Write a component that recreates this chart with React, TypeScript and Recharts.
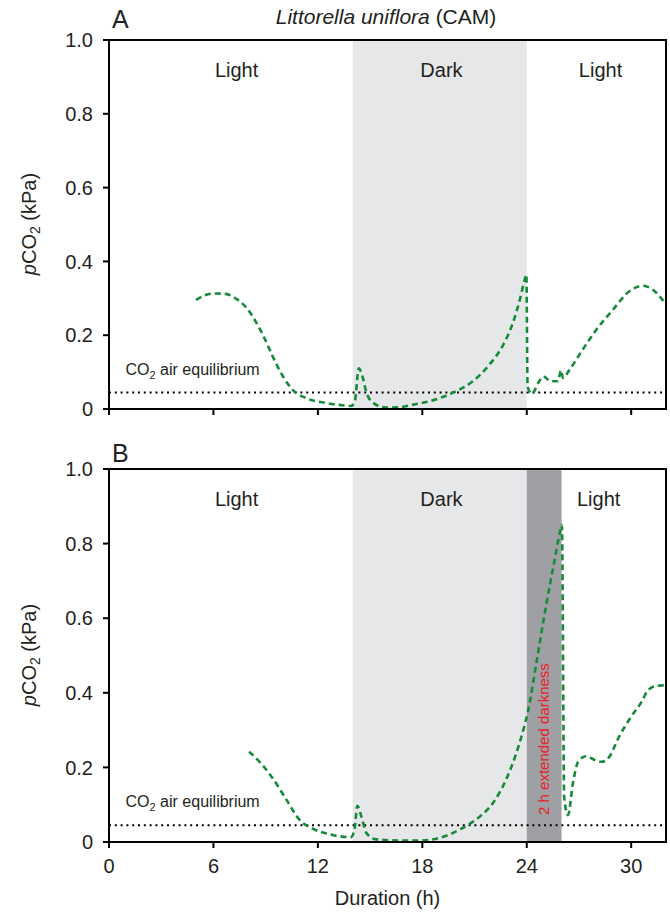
import React from "react";
import {
  LineChart,
  Line,
  XAxis,
  YAxis,
  ReferenceArea,
  ReferenceLine,
  ReferenceDot,
} from "recharts";

// Panel A: Littorella uniflora, normal light/dark cycle
const aHours = [
  5.0, 5.5, 6.05, 6.7, 7.2, 7.9, 8.45, 8.95, 9.4, 10.0, 10.55, 11.3, 12.5, 13.4, 13.9,
  14.12, 14.35, 14.55, 14.8, 15.2, 15.9, 16.7, 17.6, 18.4, 19.2, 19.8, 20.9, 21.85, 22.6,
  23.2, 23.6, 23.88, 23.98, 24.05, 24.3, 24.65, 24.95, 25.4, 25.8, 25.97, 26.08, 26.45,
  27.2, 28.0, 28.95, 29.9, 30.65, 31.25, 31.8, 32.0,
];
const aValues = [
  0.296, 0.308, 0.313, 0.312, 0.302, 0.274, 0.235, 0.19, 0.143, 0.088, 0.052, 0.03, 0.016,
  0.01, 0.008, 0.02, 0.11, 0.09, 0.043, 0.016, 0.004, 0.005, 0.013, 0.021, 0.033, 0.045,
  0.075, 0.12, 0.17, 0.233, 0.296, 0.35, 0.364, 0.06, 0.041, 0.07, 0.088, 0.075, 0.076,
  0.105, 0.084, 0.106, 0.16, 0.215, 0.269, 0.319, 0.334, 0.323, 0.296, 0.285,
];

// Panel B: same, with 2 h extended darkness
const bHours = [
  8.05, 8.65, 9.4, 10.2, 10.95, 11.7, 12.85, 13.9, 14.1, 14.27, 14.5, 14.8, 15.35, 16.7,
  17.85, 19.2, 20.3, 21.3, 22.05, 22.8, 23.4, 23.8, 24.07, 24.55, 25.1, 25.6, 25.9, 26.02,
  26.15, 26.37, 26.65, 26.95, 27.4, 27.9, 28.3, 28.75, 29.3, 30.0, 30.65, 30.9, 31.4, 31.8,
  32.0,
];
const bValues = [
  0.242, 0.215, 0.171, 0.113, 0.059, 0.036, 0.019, 0.013, 0.032, 0.097, 0.068, 0.023, 0.007,
  0.004, 0.004, 0.014, 0.037, 0.068, 0.104, 0.166, 0.238, 0.3, 0.35, 0.479, 0.631, 0.756,
  0.828, 0.85, 0.12, 0.072, 0.157, 0.215, 0.23, 0.22, 0.215, 0.229, 0.282, 0.336, 0.38,
  0.403, 0.418, 0.42, 0.42,
];

const xTicks = [0, 6, 12, 18, 24, 30];
const yTicks = [0, 0.2, 0.4, 0.6, 0.8, 1.0];
const airEquilibrium = 0.045;

const FONT = '"Liberation Sans", Arial, Helvetica, sans-serif';
const INK = "#231f20";
const GREEN = "#178a3a";

const aData = aHours.map((h, i) => ({ h, v: aValues[i] }));
const bData = bHours.map((h, i) => ({ h, v: bValues[i] }));

function EqLabel(props: any) {
  const vb = props.viewBox ?? { x: props.x, y: props.y, width: 0, height: 0 };
  const x = vb.x + (vb.width ?? 0) / 2;
  const y = vb.y + (vb.height ?? 0) / 2;
  return (
    <text x={x} y={y} dy="0.35em" fontSize={16} fill={INK} fontFamily={FONT} textAnchor="start">
      CO
      <tspan fontSize={11} dy={4}>
        2
      </tspan>
      <tspan dy={-4}> air equilibrium</tspan>
    </text>
  );
}

function Panel({
  data,
  top,
  height,
  marginTop,
  axisHeight,
  showXLabels,
  extended,
}: {
  data: { h: number; v: number }[];
  top: number;
  height: number;
  marginTop: number;
  axisHeight: number;
  showXLabels: boolean;
  extended: boolean;
}) {
  const rightLight = extended ? 28.13 : 28.24;
  const txt = { fill: INK, fontSize: 20, fontFamily: FONT };
  return (
    <div style={{ position: "absolute", left: 0, top }}>
      <LineChart
        width={670}
        height={height}
        data={data}
        margin={{ top: marginTop, right: 4, left: 0, bottom: 0 }}
      >
        <ReferenceArea x1={14} x2={24} y1={0} y2={1} fill="#e6e7e8" fillOpacity={1} stroke="none" />
        {extended && (
          <ReferenceArea x1={24} x2={26} y1={0} y2={1} fill="#9fa0a4" fillOpacity={1} stroke="none" />
        )}
        <XAxis
          dataKey="h"
          type="number"
          domain={[0, 32]}
          ticks={xTicks}
          height={axisHeight}
          stroke="#000"
          strokeWidth={2}
          tickSize={6}
          tickMargin={11}
          tick={txt}
          tickFormatter={(v) => (showXLabels ? String(v) : "")}
          label={
            showXLabels
              ? { value: "Duration (h)", position: "insideBottom", offset: 9, ...txt }
              : undefined
          }
        />
        <YAxis
          type="number"
          domain={[0, 1]}
          ticks={yTicks}
          width={109}
          stroke="#000"
          strokeWidth={2}
          tickSize={6}
          tickMargin={10}
          tick={txt}
          tickFormatter={(v) => (v === 0 ? "0" : Number(v).toFixed(1))}
        />
        <ReferenceLine y={airEquilibrium} stroke="#000" strokeWidth={2} strokeDasharray="2 3.8" />
        <ReferenceDot x={7.33} y={0.92} r={1} fill="none" stroke="none"
          label={{ value: "Light", position: "center", ...txt }} />
        <ReferenceDot x={19.1} y={0.92} r={1} fill="none" stroke="none"
          label={{ value: "Dark", position: "center", ...txt }} />
        <ReferenceDot x={rightLight} y={0.92} r={1} fill="none" stroke="none"
          label={{ value: "Light", position: "center", ...txt }} />
        <ReferenceDot x={0.95} y={0.108} r={1} fill="none" stroke="none" label={<EqLabel />} />
        {extended && (
          <ReferenceDot x={25} y={0.276} r={1} fill="none" stroke="none"
            label={{ value: "2 h extended darkness", position: "center", angle: -90, fill: "#e8202a", fontSize: 15, fontFamily: FONT }} />
        )}
        <Line
          type="monotone"
          dataKey="v"
          stroke={GREEN}
          strokeWidth={2.6}
          strokeDasharray="6 4"
          dot={false}
          isAnimationActive={false}
        />
        <ReferenceArea x1={0} x2={32} y1={0} y2={1} fill="none" stroke="#000" strokeWidth={2} />
      </LineChart>
    </div>
  );
}

function YTitle({ centerY }: { centerY: number }) {
  return (
    <div
      style={{
        position: "absolute",
        left: 30,
        top: centerY,
        transform: "translate(-50%, -50%) rotate(-90deg)",
        whiteSpace: "nowrap",
        fontFamily: FONT,
        fontSize: 20,
        color: INK,
        lineHeight: 1,
      }}
    >
      <i>p</i>CO<sub style={{ fontSize: 14, verticalAlign: -4 }}>2</sub> (kPa)
    </div>
  );
}

export default function App() {
  const letter = { position: "absolute" as const, left: 112, fontFamily: FONT, fontSize: 25, color: INK, lineHeight: 1 };
  return (
    <div style={{ position: "absolute", left: 0, top: 0, width: 670, height: 914, background: "#fff" }}>
      <div
        style={{
          position: "absolute",
          left: 386,
          top: 17,
          transform: "translate(-50%, -50%)",
          whiteSpace: "nowrap",
          fontFamily: FONT,
          fontSize: 21,
          color: INK,
        }}
      >
        <i>Littorella uniflora</i> (CAM)
      </div>
      <div style={{ ...letter, top: 7 }}>A</div>
      <div style={{ ...letter, top: 441 }}>B</div>
      <Panel data={aData} top={0} height={440} marginTop={40} axisHeight={31} showXLabels={false} extended={false} />
      <Panel data={bData} top={440} height={474} marginTop={29} axisHeight={72} showXLabels={true} extended={true} />
      <YTitle centerY={224} />
      <YTitle centerY={655} />
    </div>
  );
}
